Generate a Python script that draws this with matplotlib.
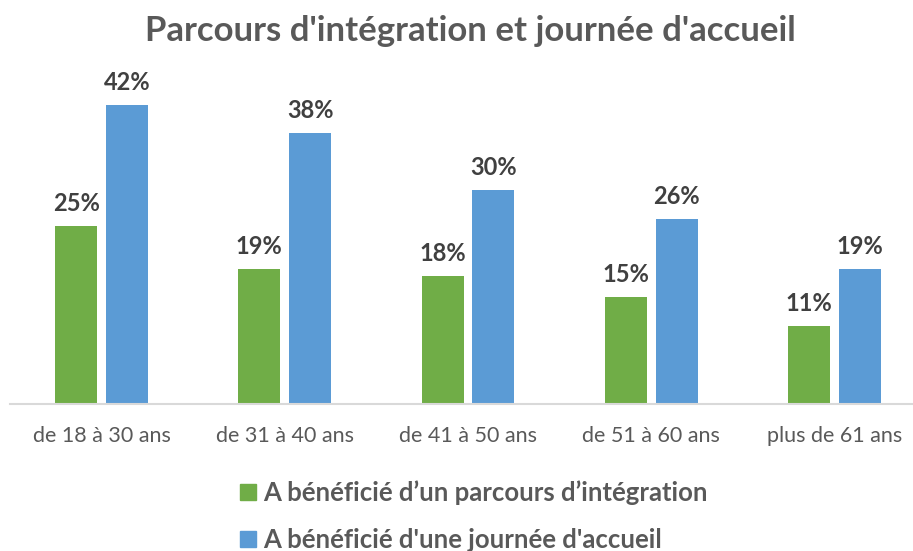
import matplotlib.pyplot as plt
from matplotlib.patches import Patch
import numpy as np

plt.rcParams['font.family'] = ['Lato', 'DejaVu Sans']

# Data
categories = ['de 18 à 30 ans', 'de 31 à 40 ans', 'de 41 à 50 ans',
              'de 51 à 60 ans', 'plus de 61 ans']
parcours = [25, 19, 18, 15, 11]
accueil = [42, 38, 30, 26, 19]
series_names = ['A bénéficié d\u2019un parcours d\u2019intégration',
                "A bénéficié d'une journée d'accueil"]

green = '#70AD47'
blue = '#5B9BD5'
grey = '#595959'

W, H = 913, 551
fig = plt.figure(figsize=(W / 100, H / 100), dpi=100)
# axes spans a bit past the right edge, like the original
ax = fig.add_axes([10 / W, (H - 404) / H, 916 / W, 342 / H])

x = np.arange(len(categories))
w = 0.229
off = 0.139
b1 = ax.bar(x - off, parcours, w, color=green)
b2 = ax.bar(x + off, accueil, w, color=blue)

for bars, vals in ((b1, parcours), (b2, accueil)):
    for b, v in zip(bars, vals):
        ax.annotate(f'{v}%', (b.get_x() + b.get_width() / 2, v),
                    xytext=(0, 8), textcoords='offset points',
                    ha='center', va='bottom', fontsize=17,
                    fontweight='bold', color='#404040')

ax.set_xlim(-0.5, len(categories) - 0.5)
ax.set_ylim(0, 48)
ax.set_xticks(x)
ax.set_xticklabels(categories, fontsize=15.5, color=grey)
ax.tick_params(axis='x', length=0, pad=16)
ax.set_yticks([])
for s in ['top', 'right', 'left']:
    ax.spines[s].set_visible(False)
ax.spines['bottom'].set_color('#D9D9D9')
ax.spines['bottom'].set_linewidth(1.5)

fig.text(470 / W, 1 - 31 / H, "Parcours d'intégration et journée d'accueil",
         ha='center', va='center', fontsize=25, fontweight='bold', color=grey)

handles = [Patch(color=green), Patch(color=blue)]
leg = fig.legend(handles, series_names, loc='upper left',
                 bbox_to_anchor=(217 / W, 1 - 457 / H), frameon=False,
                 handlelength=0.6, handleheight=0.6, handletextpad=0.3,
                 labelspacing=0.9, prop={'size': 18.5, 'weight': 'bold'})
for t in leg.get_texts():
    t.set_color(grey)

fig.savefig('out.png', dpi=100)
